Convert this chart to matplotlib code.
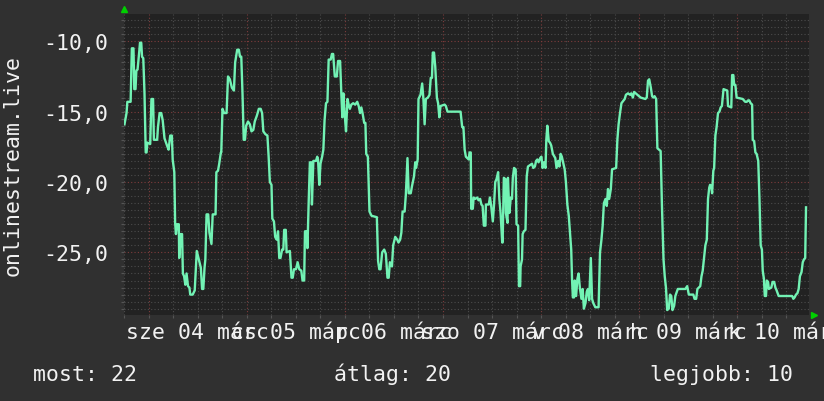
import matplotlib
matplotlib.use('Agg')
import matplotlib.pyplot as plt
import matplotlib.transforms as mtransforms
from matplotlib.ticker import MultipleLocator, FuncFormatter

# hours since márc 04 00:00, plotted value (negative rank)
hours = [
    -6.0, -5.5, -5.3, -4.5, -4.2, -3.8, -3.6, -3.3, -3.1, -2.8, -2.5, -2.2, -1.9, -1.7,
    -1.4, -1.1, -0.8, -0.6, -0.4, 0.3, 0.6, 1.0, 1.2, 2.0, 2.2, 2.6, 3.0, 3.35, 3.8, 4.4,
    4.8, 5.2, 5.6, 5.8, 6.2, 6.4, 6.6, 6.9, 7.3, 7.4, 7.8, 8.1, 8.3, 8.6, 8.9, 9.2, 9.55,
    9.9, 10.1, 10.7, 11.2, 11.7, 12.2, 12.7, 13.0, 13.3, 13.6, 13.8, 14.1, 14.5, 14.8,
    15.3, 15.6, 16.3, 16.5, 16.9, 17.2, 17.6,
    # márc 04 evening - márc 05
    17.7, 18.0, 18.4, 19.0, 19.35, 19.8, 20.3, 20.8, 21.1, 21.6, 22.0, 22.3, 22.6, 22.9,
    23.2, 23.5, 23.8, 24.25, 24.7, 25.1, 25.55, 25.9, 26.4, 26.9, 27.35, 27.7, 28.0, 28.5,
    29.0, 29.3, 29.6, 30.0, 30.2, 30.6, 30.9, 31.3, 31.6, 31.9, 32.2, 32.6, 32.9, 33.1,
    33.5, 33.7, 34.5, 34.9, 35.2, 35.5, 36.0, 36.4, 36.8, 37.3, 37.6, 38.0, 38.2, 38.6,
    38.8, 39.1, 39.4, 39.8, 39.9, 40.25, 40.9, 41.2,
    # márc 06
    41.4, 41.7, 42.0, 42.4, 42.7, 43.0, 43.35, 43.7, 44.0, 44.5, 44.8, 45.1, 45.5, 46.0,
    46.3, 46.8, 47.1, 47.35, 47.6, 47.9, 48.25, 48.6, 48.9, 49.2, 49.55, 50.0, 50.5, 51.0,
    51.35, 51.7, 52.0, 52.3, 52.7, 53.0, 53.2, 53.6, 54.0, 54.5, 55.8, 56.1, 56.4, 56.7,
    57.1, 57.6, 58.0, 58.4, 58.7, 59.0, 59.5, 59.8, 60.3, 60.8, 61.1, 61.5, 61.8, 62.1,
    62.6, 62.9, 63.3, 63.6, 64.1, 64.4, 64.9, 65.2,
    # márc 07
    65.4, 65.8, 66.0, 66.5, 66.9, 67.2, 67.5, 67.8, 68.3, 68.7, 69.0, 69.3, 69.5, 69.8,
    70.1, 70.5, 70.8, 71.1, 71.4, 72.4, 72.7, 73.1, 76.3, 76.7, 77.0, 77.3, 77.6, 78.3,
    78.5, 78.8, 78.9, 79.3, 79.5, 79.9, 80.4, 80.7, 81.1, 81.4, 81.7, 82.0, 82.4, 82.5,
    83.2, 83.5, 83.8, 84.2, 84.5, 84.8, 85.1, 85.5, 85.8, 86.1, 86.5, 86.6, 86.9, 87.3,
    87.4, 87.8, 87.9, 88.25, 88.6, 88.9, 89.1,
    # márc 08
    89.4, 89.8, 90.0, 90.4, 90.6, 90.9, 91.0, 91.35, 91.5, 91.8, 92.2, 92.5, 92.8, 93.8,
    94.1, 94.5, 94.8, 95.1, 95.4, 95.8, 96.1, 96.4, 96.7, 97.1, 97.3, 97.55, 97.9, 98.2,
    98.5, 98.9, 99.5, 99.8, 100.2, 100.5, 100.8, 101.1, 101.5, 101.8, 102.1, 102.45, 102.8,
    103.1, 103.4, 103.6, 103.8, 104.1, 104.25, 104.6, 104.9, 105.2, 105.55, 105.9, 106.2,
    106.5, 106.9, 107.2, 107.5, 107.8, 108.2, 108.5, 108.8, 109.3, 110.1, 110.45, 110.8,
    111.1, 111.4, 111.8, 112.1, 112.4, 112.7, 113.1,
    # márc 09
    113.4, 114.4, 114.7, 115.0, 115.35, 115.7, 116.5, 116.8, 117.3, 117.8, 118.1, 118.5,
    118.8, 119.6, 120.4, 121.55, 121.9, 122.2, 122.5, 122.9, 123.2, 123.5, 123.8, 124.2,
    124.5, 125.3, 125.6, 126.0, 126.3, 126.6, 126.9, 127.3, 127.6, 127.9, 128.2, 128.6,
    128.9, 129.5, 131.35, 131.8, 132.2, 133.3, 133.6, 134.0, 134.3, 135.0, 135.3, 135.6,
    135.9, 136.25, 136.6, 136.9, 137.2,
    # márc 10
    137.4, 137.7, 137.9, 138.2, 138.4, 138.7, 139.0, 139.35, 139.7, 140.0, 140.3, 140.7,
    141.6, 141.8, 142.6, 142.8, 143.1, 143.3, 143.6, 143.9, 145.4, 146.0, 146.4, 146.7,
    147.0, 147.35, 147.7, 147.85, 148.2, 148.5, 148.8, 149.2, 149.5, 149.8, 150.1, 150.3,
    150.6, 150.8, 151.1, 151.3, 151.6, 151.8, 152.4, 152.7, 153.1, 153.4, 153.7, 154.2,
    157.5, 157.8, 158.1, 158.45, 158.8, 159.1, 159.4, 159.8, 160.1, 160.4, 160.7, 160.9,
]

rank = [
    -15.9, -15.1, -14.3, -14.3, -10.5, -10.5, -13.4, -13.4, -12.1, -12.0, -11.1, -10.1, -10.1, -11.1,
    -11.2, -13.7, -17.9, -17.9, -17.2, -17.3, -14.1, -14.1, -17.0, -17.0, -16.1, -15.1, -15.1, -15.6, -16.9, -17.4,
    -17.7, -16.7, -16.7, -18.4, -19.3, -22.9, -23.7, -23.0, -23.0, -25.4, -23.7, -23.7, -26.5, -26.7, -27.3, -26.5, -27.4,
    -27.5, -28.0, -28.0, -27.7, -24.9, -25.5, -26.1, -27.6, -27.6, -26.1, -25.5, -22.3, -22.3, -23.6,
    -24.4, -22.3, -22.3, -19.3, -19.2, -18.7, -17.9,
    -17.9, -14.8, -15.1, -15.1, -12.5, -12.7, -13.3, -13.5, -11.5, -10.6, -10.6, -11.1, -11.1, -13.7,
    -17.0, -17.0, -16.0, -15.7, -15.9, -16.4, -16.3, -15.7, -15.3, -14.8, -14.8, -15.1, -16.4, -16.6,
    -16.7, -18.2, -20.0, -20.2, -22.6, -22.8, -23.9, -24.1, -23.5, -25.4, -25.4, -24.8, -24.8, -23.4,
    -23.4, -25.0, -24.9, -26.8, -26.8, -26.2, -26.2, -25.7, -26.2, -26.3, -27.0, -27.0, -23.5, -23.5,
    -24.7, -21.5, -18.6, -18.6, -21.6, -18.5, -18.5, -18.2,
    -18.4, -20.2, -18.7, -18.2, -17.7, -15.6, -14.4, -14.3, -11.3, -11.3, -10.9, -10.9, -12.5, -12.5,
    -11.4, -11.4, -13.7, -15.4, -13.7, -15.1, -16.4, -14.1, -14.5, -14.8, -14.5, -14.4, -14.5, -14.3,
    -14.6, -15.1, -14.7, -15.1, -15.8, -15.8, -18.0, -18.2, -22.1, -22.4, -22.5, -25.6, -26.2, -26.2,
    -25.0, -24.8, -25.1, -26.8, -26.8, -25.7, -26.0, -24.5, -23.9, -24.1, -24.3, -24.1, -23.6, -22.1,
    -22.1, -20.9, -18.3, -20.8, -20.8, -20.3, -19.6, -18.6,
    -19.0, -18.4, -14.1, -13.8, -13.0, -14.1, -15.9, -14.1, -14.0, -13.8, -12.6, -12.6, -10.8, -10.8,
    -11.8, -14.0, -14.4, -15.4, -14.6, -14.5, -14.6, -15.0, -15.0, -16.1, -16.1, -17.7, -18.2, -18.4,
    -17.9, -17.9, -21.9, -21.9, -21.1, -21.2, -21.1, -21.3, -21.2, -21.6, -21.7, -23.1, -23.1, -21.6,
    -21.6, -21.1, -21.7, -22.8, -21.6, -20.0, -19.8, -19.3, -21.2, -22.2, -24.3, -24.3, -19.7, -19.8,
    -22.2, -22.9, -19.7, -22.2, -21.1, -21.2, -19.7,
    -19.0, -19.1, -23.0, -23.1, -27.4, -27.4, -26.0, -25.5, -23.7, -23.5, -23.4, -19.6, -18.9, -18.7,
    -19.0, -18.9, -18.5, -18.4, -18.6, -18.3, -18.2, -19.0, -18.6, -19.0, -17.0, -16.0, -17.1, -17.2,
    -17.4, -18.0, -18.3, -19.0, -18.5, -18.9, -18.0, -18.2, -18.7, -19.1, -20.0, -21.6, -22.4,
    -23.6, -24.8, -26.9, -28.2, -28.2, -27.0, -28.1, -26.9, -26.5, -27.6, -28.3, -27.6,
    -29.0, -28.6, -27.8, -27.6, -28.4, -25.4, -28.3, -28.6, -28.9, -28.9, -25.0, -24.1,
    -23.1, -21.5, -21.2, -21.7, -20.5, -21.2, -20.5,
    -19.1, -19.0, -17.0, -15.9, -15.1, -14.4, -14.1, -13.8, -13.7, -13.8, -13.7, -14.0,
    -13.6, -13.8, -14.0, -14.1, -14.0, -12.8, -12.7, -13.3, -13.9, -14.0, -13.9, -14.1,
    -17.6, -17.8, -21.5, -25.5, -26.7, -27.5, -29.1, -29.0, -28.0, -28.1, -29.1, -28.8,
    -28.1, -27.6, -27.6, -27.4, -28.0, -28.0, -28.3, -28.3, -27.6, -27.4, -26.7, -26.3,
    -25.5, -24.5, -24.1, -21.2, -20.4,
    -20.2, -20.3, -20.8, -19.2, -19.0, -16.7, -16.1, -15.1, -15.0, -14.7, -14.6, -13.4,
    -13.5, -14.6, -14.7, -12.4, -12.4, -13.1, -13.1, -14.0, -14.1, -14.3, -14.3, -14.2,
    -14.2, -14.4, -14.5, -17.0, -17.1, -17.9, -18.0, -18.5, -21.2, -24.5, -24.8, -26.3,
    -26.9, -28.1, -28.1, -27.0, -27.1, -27.6, -27.5, -27.1, -27.1, -27.5, -27.7, -28.1,
    -28.1, -28.3, -28.2, -28.0, -27.9, -27.6, -26.7, -26.4, -25.7, -25.5, -25.4, -21.8,
]

day_labels = ['sze 04 márc', 'cs 05 márc', 'p 06 márc', 'szo 07 márc',
              'v 08 márc', 'h 09 márc', 'k 10 márc']
legend_items = ['most: 22', 'átlag: 20', 'legjobb: 10']

plt.rcParams['font.family'] = 'DejaVu Sans Mono'
txt = '#f2f2f2'
fs = 15.5

fig = plt.figure(figsize=(8.24, 4.02), dpi=100, facecolor='#303030')
ax = fig.add_axes([124 / 824, 86 / 402, 685 / 824, 301.3 / 402])
ax.set_facecolor('#222222')

ax.plot(hours, rank, color='#72f2b4', lw=1.7, zorder=3)

ax.set_xlim(-6.12, 161.63)
ax.set_ylim(-29.45, -8.04)

ax.xaxis.set_major_locator(MultipleLocator(24))
ax.xaxis.set_minor_locator(MultipleLocator(6))
ax.yaxis.set_major_locator(MultipleLocator(5))
ax.yaxis.set_minor_locator(MultipleLocator(0.5))
ax.yaxis.set_major_formatter(FuncFormatter(lambda v, p: f'{v:.1f}'.replace('.', ',')))
ax.xaxis.set_major_formatter(FuncFormatter(lambda v, p: ''))

ax.grid(which='minor', color='#4c4c4c', linestyle=(0, (1, 2)), lw=0.8)
ax.grid(which='major', color='#7e3c3c', linestyle=(0, (1, 2)), lw=0.8)
ax.set_axisbelow(True)
ax.tick_params(which='both', length=2, width=0.8, color='#555555')
ax.tick_params(axis='y', which='major', labelsize=fs, labelcolor=txt, pad=9.5)
ax.tick_params(axis='x', which='major', pad=0)
for s in ax.spines.values():
    s.set_visible(False)

fig.text(13 / 824, 0.5 * (86 + 387.3) / 402, 'onlinestream.live', rotation=90,
         ha='center', va='center', fontsize=fs, color=txt)

# day labels centred at noon
trans = mtransforms.blended_transform_factory(ax.transData, fig.transFigure)
for i, lab in enumerate(day_labels):
    ax.text(12 + 24 * i, 63 / 402, lab, transform=trans, ha='center', va='baseline',
            fontsize=fs, color=txt, clip_on=False)

# axis arrows
ax.plot([0], [1 + 5 / 301], marker='^', ms=5, color='#00d000', transform=ax.transAxes, clip_on=False)
ax.plot([1 + 5 / 685], [0], marker='>', ms=5, color='#00d000', transform=ax.transAxes, clip_on=False)

for x, lab in zip([33, 334, 650], legend_items):
    fig.text(x / 824, 21 / 402, lab, ha='left', va='baseline', fontsize=fs, color=txt)

fig.savefig('out.png', dpi=100, facecolor=fig.get_facecolor())
